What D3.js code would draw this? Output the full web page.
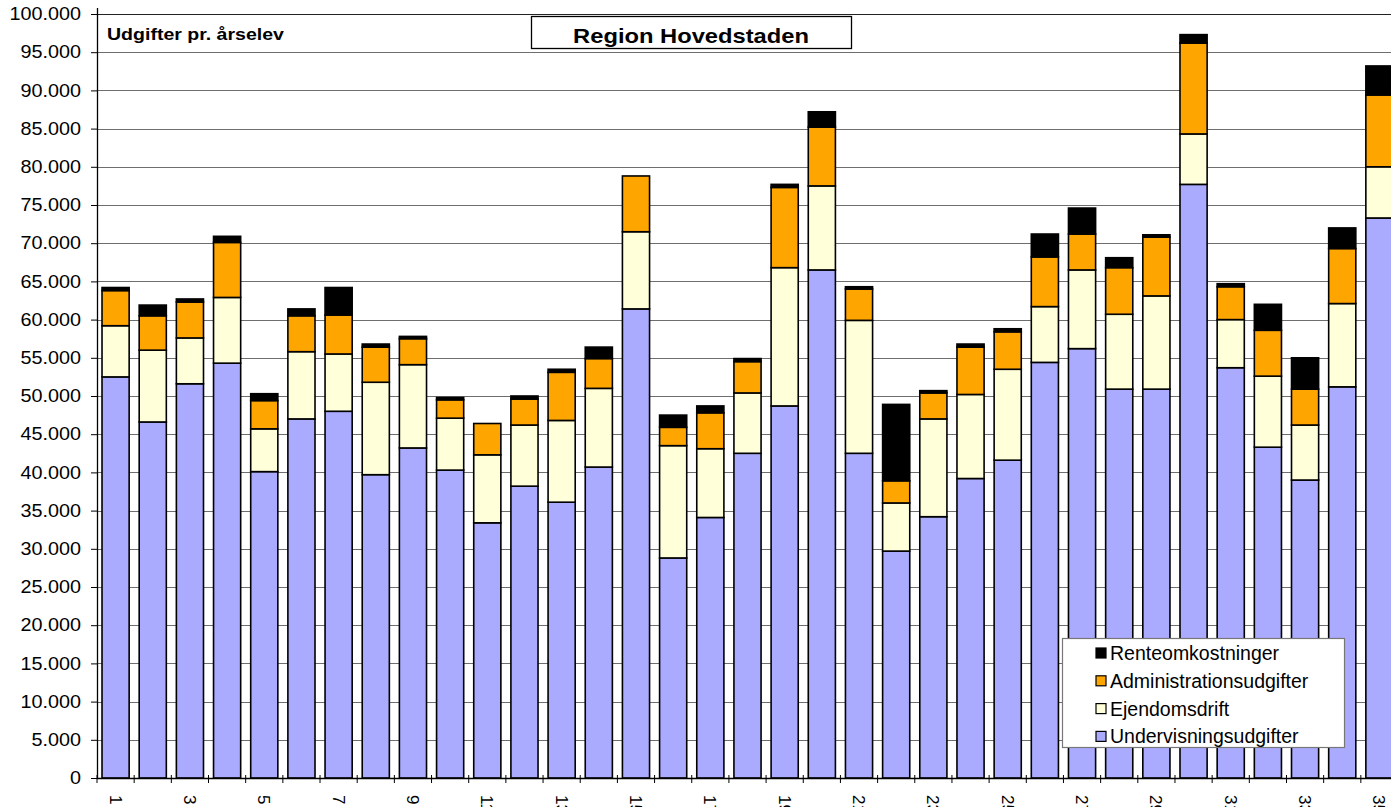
<!DOCTYPE html>
<html>
<head>
<meta charset="utf-8">
<script src="https://cdn.jsdelivr.net/npm/d3@7/dist/d3.min.js"></script>
<style>
  html, body { margin: 0; padding: 0; background: #fff; overflow: hidden; }
  svg { display: block; font-family: "Liberation Sans", Arial, Helvetica, sans-serif; }
</style>
</head>
<body>
<svg id="chart" width="1391" height="807"></svg>
<script>
// ---------- data ----------
const categories = d3.range(1, 36).map(String);
const seriesNames = ["Undervisningsudgifter", "Ejendomsdrift", "Administrationsudgifter", "Renteomkostninger"];
const undervisning = [52500,46600,51600,54300,40100,47000,48000,39700,43200,40300,33400,38200,36100,40700,61400,28800,34100,42500,48700,66500,42500,29700,34200,39200,41600,54400,56200,50900,50900,77700,53700,43300,39000,51200,73300];
const ejendomsdrift = [6700,9400,6000,8600,5600,8800,7500,12100,10900,6800,8900,8000,10700,10300,10100,14700,9000,7900,18100,11000,17400,6300,12800,11000,11900,7300,10300,9800,12200,6600,6300,9300,7200,10900,6700];
const administration = [4600,4500,4700,7200,3700,4700,5100,4600,3400,2400,4100,3400,6300,3900,7300,2400,4700,4100,10500,7700,4100,2900,3400,6200,4900,6500,4700,6100,7700,11900,4300,6000,4700,7200,9400];
const renter = [400,1400,400,800,900,900,3600,400,300,300,0,400,400,1500,0,1600,900,400,400,2000,300,10000,300,400,400,3000,3400,1300,300,1100,400,3400,4100,2700,3800];
const yTicks = d3.range(0, 100001, 5000);
const xTickLabels = categories.filter((d, i) => i % 2 === 0);
const colors = ["#AAAAFF", "#FFFFD9", "#FFA500", "#000000"];
const chartTitle = "Region Hovedstaden";
const yTitle = "Udgifter pr. årselev";

// ---------- setup ----------
const svg = d3.select("#chart");
const x0 = 97, x1 = 1398, yTop = 14, yBottom = 778;

const x = d3.scaleBand().domain(categories).range([x0, x1]).paddingInner(0.27).paddingOuter(0.135);
const y = d3.scaleLinear().domain([0, 100000]).range([yBottom, yTop]);
const locale = d3.formatLocale({decimal: ",", thousands: ".", grouping: [3], currency: ["", " kr"]});
const fmt = locale.format(",");

const rows = categories.map((c, i) => ({
  cat: c,
  [seriesNames[0]]: undervisning[i],
  [seriesNames[1]]: ejendomsdrift[i],
  [seriesNames[2]]: administration[i],
  [seriesNames[3]]: renter[i]
}));
const stacked = d3.stack().keys(seriesNames)(rows);

// gridlines
svg.append("g").selectAll("line").data(yTicks.filter(d => d > 0)).join("line")
  .attr("x1", x0).attr("x2", 1391)
  .attr("y1", d => Math.round(y(d)) + 0.5).attr("y2", d => Math.round(y(d)) + 0.5)
  .attr("stroke", d => d === 100000 ? "#222" : "#6e6e6e").attr("stroke-width", 1.2);

// y axis
const yAxis = svg.append("g").attr("transform", `translate(${x0},0)`)
  .call(d3.axisLeft(y).tickValues(yTicks).tickFormat(fmt).tickSize(6).tickPadding(10));
yAxis.select(".domain").attr("stroke", "#000").attr("stroke-width", 1.3).attr("d", `M0.5,8V${yBottom}`);
yAxis.selectAll(".tick line").attr("stroke", "#000");
yAxis.selectAll(".tick text")
  .attr("font-size", 18).attr("fill", "#000")
  .attr("font-family", "Liberation Sans, Arial, sans-serif")
  .each(function() {
    const t = d3.select(this);
    const xx = +t.attr("x");
    t.attr("x", null).attr("transform", `translate(${xx},0) scale(1.1,1)`);
  });

// bars
svg.append("g").selectAll("g").data(stacked).join("g")
  .attr("fill", (d, i) => colors[i])
  .selectAll("rect").data(d => d.filter(s => s[1] - s[0] > 0)).join("rect")
  .attr("x", d => x(d.data.cat))
  .attr("width", x.bandwidth())
  .attr("y", d => y(d[1]))
  .attr("height", d => y(d[0]) - y(d[1]))
  .attr("stroke", "#000").attr("stroke-width", 1.6);

// x axis
const xAxisG = svg.append("g").attr("transform", `translate(0,${yBottom})`);
xAxisG.append("line").attr("x1", x0).attr("x2", 1391).attr("y1", 0.5).attr("y2", 0.5)
  .attr("stroke", "#000").attr("stroke-width", 1.3);
const step = x.step();
xAxisG.selectAll(".xt").data(d3.range(0, categories.length + 1)).join("line")
  .attr("class", "xt")
  .attr("x1", i => x0 + i * step).attr("x2", i => x0 + i * step)
  .attr("y1", -3).attr("y2", 5).attr("stroke", "#000").attr("stroke-width", 1);
xAxisG.selectAll("text").data(xTickLabels).join("text")
  .attr("transform", d => `translate(${x(d) + x.bandwidth() / 2},17) rotate(90)`)
  .attr("dy", "0.35em").attr("font-size", 17).attr("fill", "#000")
  .text(d => d);

// y title
svg.append("text").attr("transform", "translate(107,40) scale(1.15,1)")
  .attr("font-size", 17).attr("font-weight", "bold").attr("fill", "#000").text(yTitle);

// title box
svg.append("rect").attr("x", 531.5).attr("y", 16.5).attr("width", 320).attr("height", 32)
  .attr("fill", "#fff").attr("stroke", "#000").attr("stroke-width", 1.3);
svg.append("text").attr("transform", "translate(691,43) scale(1.13,1)")
  .attr("text-anchor", "middle").attr("font-size", 21).attr("font-weight", "bold")
  .attr("fill", "#000").text(chartTitle);

// legend
const lg = svg.append("g");
lg.append("rect").attr("x", 1062.5).attr("y", 638.5).attr("width", 282).attr("height", 109)
  .attr("fill", "#fff").attr("stroke", "#777").attr("stroke-width", 1.2);
const legendOrder = seriesNames.map((n, i) => ({name: n, color: colors[i]})).reverse();
const li = lg.selectAll("g.li").data(legendOrder).join("g").attr("class", "li")
  .attr("transform", (d, i) => `translate(1096,${653 + i * 27.8})`);
li.append("rect").attr("x", 0).attr("y", -5).attr("width", 10).attr("height", 10)
  .attr("fill", d => d.color).attr("stroke", "#000").attr("stroke-width", 1.2);
li.append("text").attr("x", 14).attr("y", 0).attr("dy", "0.36em")
  .attr("font-size", 19.5).attr("fill", "#000").text(d => d.name);
</script>
</body>
</html>
